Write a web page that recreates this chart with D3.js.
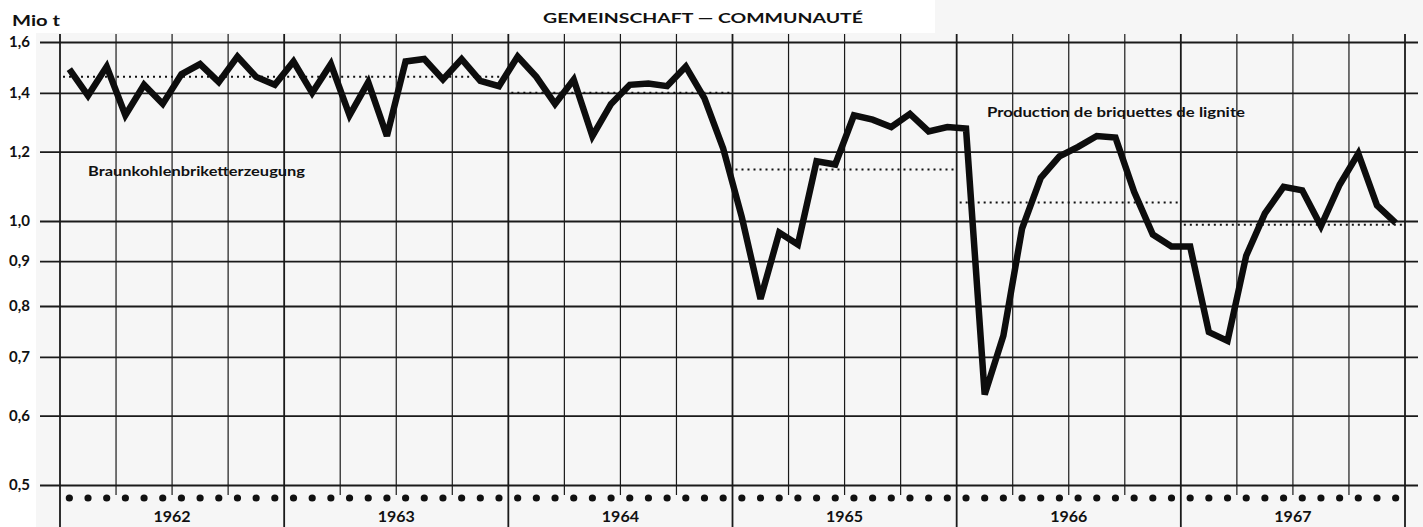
<!DOCTYPE html>
<html>
<head>
<meta charset="utf-8">
<script src="https://cdn.jsdelivr.net/npm/d3@7"></script>
<style>
  html, body { margin: 0; padding: 0; background: #f6f6f6; }
  svg { display: block; }
  text { font-family: Lato, "Open Sans", sans-serif; fill: #111; }
</style>
</head>
<body>
<svg id="chart" width="1423" height="527"></svg>
<script>
// ---- data ----
const years = [1962, 1963, 1964, 1965, 1966, 1967];
const yTicks = [0.5, 0.6, 0.7, 0.8, 0.9, 1.0, 1.2, 1.4, 1.6];
const production = [
  // 1962
  1.49, 1.39, 1.50, 1.32, 1.43, 1.36, 1.47, 1.51, 1.44, 1.54, 1.46, 1.43,
  // 1963
  1.52, 1.40, 1.51, 1.32, 1.44, 1.25, 1.52, 1.53, 1.45, 1.53, 1.445, 1.425,
  // 1964
  1.54, 1.46, 1.36, 1.45, 1.25, 1.36, 1.43, 1.435, 1.425, 1.50, 1.38, 1.21,
  // 1965
  1.01, 0.815, 0.97, 0.94, 1.17, 1.16, 1.32, 1.305, 1.28, 1.325, 1.265, 1.28,
  // 1966
  1.275, 0.634, 0.74, 0.98, 1.12, 1.185, 1.215, 1.25, 1.245, 1.08, 0.965, 0.935,
  // 1967
  0.935, 0.747, 0.73, 0.913, 1.02, 1.094, 1.084, 0.987, 1.10, 1.194, 1.042, 0.995
];
const yearlyAverage = [1.46, 1.46, 1.40, 1.145, 1.05, 0.99];
const title = "GEMEINSCHAFT — COMMUNAUTÉ";
const unitLabel = "Mio t";
const labelDe = "Braunkohlenbriketterzeugung";
const labelFr = "Production de briquettes de lignite";

// ---- layout ----
const svg = d3.select("#chart");
const W = 1423, H = 527;
const plotLeft = 60, plotRight = 1405;
const gridLeft = 40, gridRight = 1418;
const yTop = 42, yBottom = 485;
const nMonths = years.length * 12;

const x = d3.scaleLinear().domain([0, nMonths]).range([plotLeft, plotRight]);
const y = d3.scaleLog().domain([0.5, 1.6]).range([yBottom, yTop]);

// background
svg.append("rect").attr("x", 0).attr("y", 0).attr("width", W).attr("height", H).attr("fill", "#f6f6f6");
svg.append("rect").attr("x", 0).attr("y", 0).attr("width", 36).attr("height", H).attr("fill", "#ffffff");
svg.append("rect").attr("x", 0).attr("y", 0).attr("width", 935).attr("height", 33).attr("fill", "#ffffff");

// vertical quarter lines
const quarters = d3.range(0, nMonths + 1, 3);
svg.append("g").selectAll("line").data(quarters).join("line")
  .attr("x1", d => x(d)).attr("x2", d => x(d))
  .attr("y1", 34)
  .attr("y2", d => d % 12 === 0 ? H : 495)
  .attr("stroke", "#1a1a1a")
  .attr("stroke-width", d => d % 12 === 0 ? 1.8 : 1.2);

// horizontal grid + y axis labels
const yAxis = d3.axisLeft(y)
  .tickValues(yTicks)
  .tickFormat(d => d3.format(".1f")(d).replace(".", ","))
  .tickSize(-(gridRight - gridLeft))
  .tickPadding(10);
const gy = svg.append("g").attr("transform", `translate(${gridLeft},0)`).call(yAxis);
gy.select(".domain").remove();
gy.selectAll(".tick line").attr("stroke", "#1a1a1a").attr("stroke-width", 1.8);
gy.selectAll(".tick text")
  .attr("font-family", "Lato, 'Open Sans', sans-serif")
  .attr("font-size", 15).attr("font-weight", 700).attr("fill", "#111");

// yearly averages (dotted)
svg.append("g").selectAll("line").data(yearlyAverage).join("line")
  .attr("x1", (d, i) => x(i * 12) + 3).attr("x2", (d, i) => x(i * 12 + 12) - 1)
  .attr("y1", d => y(d)).attr("y2", d => y(d))
  .attr("stroke", "#111").attr("stroke-width", 2)
  .attr("stroke-dasharray", "2,4");

// main line
const line = d3.line()
  .x((d, i) => x(i + 0.5))
  .y(d => y(d));
svg.append("path").datum(production)
  .attr("d", line)
  .attr("fill", "none")
  .attr("stroke", "#0d0d0d")
  .attr("stroke-width", 6.5)
  .attr("stroke-linejoin", "miter")
  .attr("stroke-miterlimit", 3);

// month dots
svg.append("g").selectAll("circle").data(d3.range(nMonths)).join("circle")
  .attr("cx", d => x(d + 0.5)).attr("cy", 498).attr("r", 3.6)
  .attr("fill", "#111");

// year labels
svg.append("g").selectAll("text").data(years).join("text")
  .attr("x", (d, i) => x(i * 12 + 6)).attr("y", 522)
  .attr("text-anchor", "middle")
  .attr("font-size", 16).attr("font-weight", 700)
  .text(d => d);

// title and unit
svg.append("text").attr("x", 543).attr("y", 23)
  .attr("font-size", 13).attr("font-weight", 700)
  .attr("textLength", 320).attr("lengthAdjust", "spacingAndGlyphs")
  .text(title);
svg.append("text").attr("x", 12).attr("y", 26)
  .attr("font-size", 16).attr("font-weight", 700)
  .attr("textLength", 48).attr("lengthAdjust", "spacingAndGlyphs")
  .text(unitLabel);

// annotations
svg.append("text").attr("x", 88).attr("y", 176)
  .attr("font-size", 12.5).attr("font-weight", 700)
  .attr("textLength", 217).attr("lengthAdjust", "spacingAndGlyphs")
  .text(labelDe);
svg.append("text").attr("x", 987).attr("y", 117)
  .attr("font-size", 12.5).attr("font-weight", 700)
  .attr("textLength", 258).attr("lengthAdjust", "spacingAndGlyphs")
  .text(labelFr);
</script>
</body>
</html>
